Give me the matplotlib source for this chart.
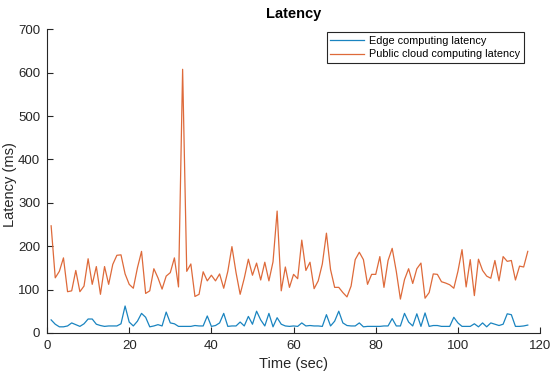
import matplotlib
matplotlib.use("Agg")
import matplotlib.pyplot as plt
import numpy as np

# sample index (one reading per second)
time_sec = np.arange(1, 118)

edge_latency = [
    30, 20, 14, 14, 16, 23, 19, 15, 21, 32,
    32, 20, 17, 15, 16, 16, 16, 21, 62, 25,
    16, 27, 45, 36, 14, 16, 19, 16, 48, 23,
    21, 15, 15, 15, 15, 17, 16, 16, 39, 15,
    17, 23, 45, 15, 16, 16, 25, 16, 38, 20,
    50, 30, 16, 45, 14, 35, 20, 16, 15, 16,
    15, 23, 16, 17, 16, 16, 15, 42, 16, 27,
    50, 23, 17, 16, 16, 23, 14, 15, 15, 15,
    15, 16, 16, 33, 16, 16, 45, 25, 16, 44,
    15, 46, 15, 17, 17, 15, 15, 15, 36, 23,
    15, 15, 15, 21, 14, 23, 14, 23, 20, 17,
    20, 44, 42, 15, 15, 16, 18,
]

cloud_latency = [
    247, 127, 142, 173, 95, 97, 144, 95, 108, 171,
    112, 153, 89, 153, 112, 158, 179, 180, 136, 112,
    103, 150, 188, 91, 97, 148, 127, 101, 131, 139,
    173, 106, 608, 142, 159, 84, 89, 141, 120, 133,
    120, 136, 103, 142, 199, 139, 89, 126, 170, 133,
    161, 122, 163, 120, 164, 281, 97, 152, 105, 135,
    125, 214, 144, 163, 102, 120, 159, 230, 146, 105,
    105, 93, 83, 108, 169, 186, 169, 112, 135, 135,
    176, 105, 167, 195, 142, 78, 123, 148, 114, 148,
    161, 80, 93, 136, 135, 118, 115, 111, 103, 142,
    192, 106, 169, 86, 170, 144, 131, 126, 167, 120,
    176, 165, 167, 122, 154, 152, 188,
]

labels = ["Edge computing latency", "Public cloud computing latency"]
x_ticks = [0, 20, 40, 60, 80, 100, 120]
y_ticks = [0, 100, 200, 300, 400, 500, 600, 700]

TEXT = "#262626"
plt.rcParams["font.family"] = ["Liberation Sans", "DejaVu Sans"]


def main():
    fig = plt.figure(figsize=(5.5, 3.77), dpi=100)
    ax = fig.add_axes([0.0855, 0.117, 0.8965, 0.805])

    ax.plot(time_sec, edge_latency, color="#1a84c0", lw=0.9, label=labels[0])
    ax.plot(time_sec, cloud_latency, color="#de6a3a", lw=0.9, label=labels[1])

    ax.set_xlim(0, 120)
    ax.set_ylim(0, 700)
    ax.set_xticks(x_ticks)
    ax.set_yticks(y_ticks)

    for side in ["top", "right"]:
        ax.spines[side].set_visible(False)
    for side in ["left", "bottom"]:
        ax.spines[side].set_color(TEXT)
        ax.spines[side].set_linewidth(0.8)
    ax.tick_params(direction="in", length=4, width=0.8, colors=TEXT,
                   labelsize=9.5, pad=5)

    ax.set_xlabel("Time (sec)", fontsize=10.5, color=TEXT, labelpad=4)
    ax.set_ylabel("Latency (ms)", fontsize=10.5, color=TEXT)
    ax.yaxis.set_label_coords(-0.06, 0.49)
    ax.set_title("Latency", fontsize=10.5, fontweight="bold", color="black", pad=8)

    leg = ax.legend(loc="upper right", bbox_to_anchor=(0.968, 0.99),
                    borderaxespad=0, fontsize=7.8, handlelength=3.1,
                    fancybox=False, framealpha=1, edgecolor=TEXT,
                    labelspacing=0.3, borderpad=0.35, handletextpad=0.5)
    leg.get_frame().set_linewidth(0.8)

    fig.savefig("out.png", dpi=100)


if __name__ == "__main__":
    main()
